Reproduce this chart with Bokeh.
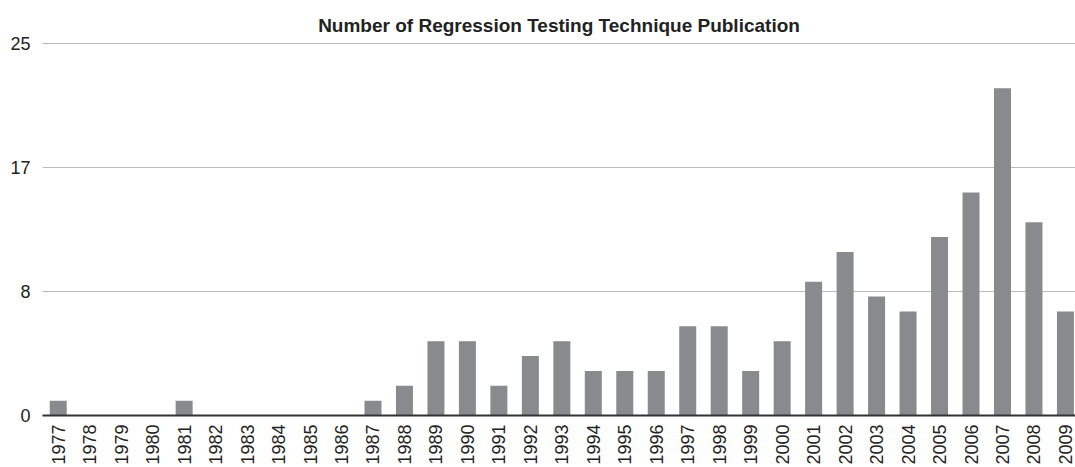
from bokeh.plotting import figure
from bokeh.models import Range1d, FixedTicker, NumeralTickFormatter
from bokeh.embed import file_html
from bokeh.resources import INLINE
import math

years = [str(y) for y in range(1977, 2010)]
counts = [1, 0, 0, 0, 1, 0, 0, 0, 0, 0, 1, 2, 5, 5, 2, 4, 5, 3, 3, 3,
          6, 6, 3, 5, 9, 11, 8, 7, 12, 15, 22, 13, 7]
y_tick_values = [0, 25 / 3, 50 / 3, 25]
title_text = "Number of Regression Testing Technique Publication"

xs = list(range(len(years)))

p = figure(width=1075, height=467, output_backend="svg", toolbar_location=None,
           x_range=Range1d(-0.5, len(years) - 0.68), y_range=Range1d(0, 25.08),
           min_border_left=42, min_border_right=0, min_border_top=42, min_border_bottom=0)
p.outline_line_color = None
p.background_fill_color = "white"
p.border_fill_color = "white"

p.vbar(x=xs, top=counts, width=0.54, fill_color="#898a8e", line_color=None)

p.title.text = title_text
p.title.align = "center"
p.title.text_font = "Liberation Sans"
p.title.text_font_size = "19px"
p.title.text_font_style = "bold"
p.title.text_color = "#222222"
p.title.standoff = 14

# x axis
p.xaxis.ticker = FixedTicker(ticks=xs)
p.xaxis.major_label_overrides = {i: y for i, y in enumerate(years)}
p.xaxis.major_label_orientation = math.pi / 2
p.xaxis.major_label_text_font = "Liberation Sans"
p.xaxis.major_label_text_font_size = "18px"
p.xaxis.major_label_text_color = "#222222"
p.xaxis.major_tick_line_color = None
p.xaxis.major_tick_out = 0
p.xaxis.major_tick_in = 0
p.xaxis.minor_tick_line_color = None
p.xaxis.minor_tick_out = 0
p.xaxis.axis_line_color = "#333333"
p.xaxis.axis_line_width = 2
p.xaxis.major_label_standoff = 9
p.xgrid.grid_line_color = None

# y axis
p.yaxis.ticker = FixedTicker(ticks=y_tick_values)
p.yaxis.formatter = NumeralTickFormatter(format="0")
p.yaxis.major_label_text_font = "Liberation Sans"
p.yaxis.major_label_text_font_size = "18px"
p.yaxis.major_label_text_color = "#222222"
p.yaxis.major_tick_line_color = None
p.yaxis.major_tick_out = 0
p.yaxis.major_tick_in = 0
p.yaxis.minor_tick_line_color = None
p.yaxis.minor_tick_out = 0
p.yaxis.axis_line_color = None
p.yaxis.major_label_standoff = 12
p.ygrid.grid_line_color = "#bbbbbb"
p.ygrid.grid_line_width = 1

open("out.html", "w").write(file_html(p, INLINE))
